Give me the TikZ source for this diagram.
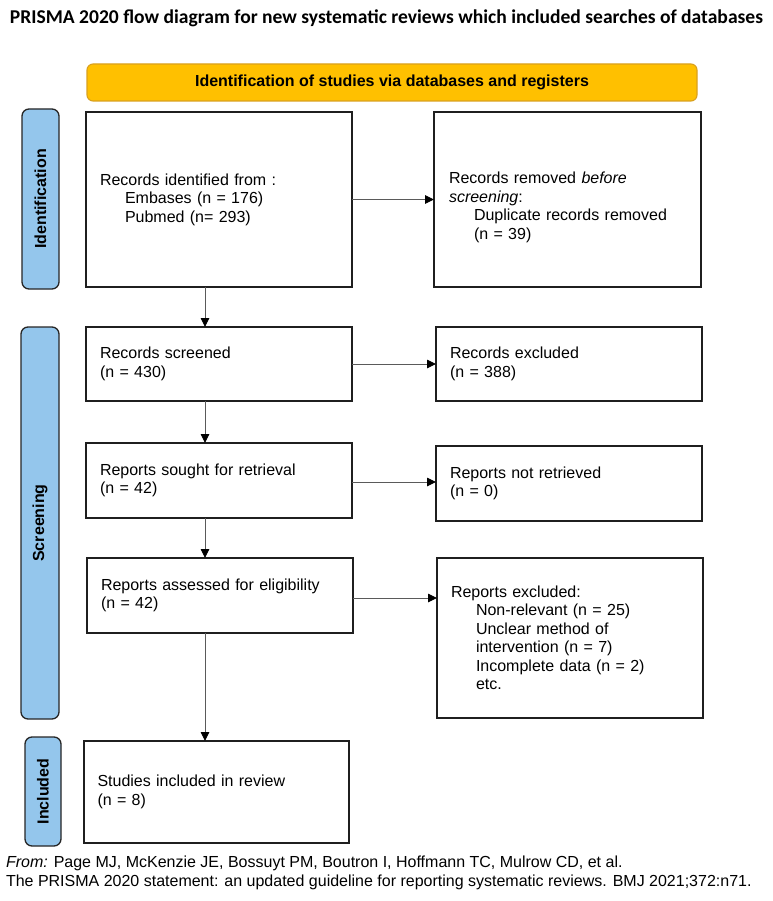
\documentclass[tikz,border=0pt]{standalone}
\usepackage{fontspec}
\usepackage{graphicx}
\setmainfont{Liberation Sans}
\newfontfamily\titlefont{Carlito}
\usetikzlibrary{arrows.meta,positioning}
\definecolor{bannerfill}{HTML}{FFC000}
\definecolor{bannerdraw}{HTML}{D9A01E}
\definecolor{sidefill}{HTML}{94C6EC}
\definecolor{sidedraw}{HTML}{262626}
\definecolor{arrowgray}{HTML}{5A5A5A}
\tikzset{
  every node/.style={inner sep=0pt, outer sep=0pt},
  bodyfont/.style={font=\fontsize{16}{18.5}\selectfont},
  flowbox/.style={draw=black!88, line width=1.3pt, fill=white, bodyfont,
    align=left, inner xsep=14pt, inner ysep=0pt},
  sidelab/.style={draw=sidedraw, line width=1.3pt, fill=sidefill, rounded corners=7pt,
    font=\fontsize{16}{18}\selectfont\bfseries, rotate=90},
  banner/.style={draw=bannerdraw, line width=1.1pt, fill=bannerfill, rounded corners=6pt,
    font=\fontsize{16}{18}\selectfont\bfseries},
  flowarrow/.style={draw=arrowgray, line width=0.9pt,
    arrows={-Triangle[length=9pt,width=8.5pt,black]}}
}
\begin{document}
\begin{tikzpicture}[x=1pt,y=-1pt]
\useasboundingbox (0,0) rectangle (772,901);
\fill[white] (0,0) rectangle (772,901);

% title
\node[anchor=base] (title) at (386.5,24)
  {\resizebox{753pt}{!}{\titlefont\bfseries PRISMA 2020 flow diagram for new systematic reviews which included searches of databases}};

% banner
\node[banner, minimum width=610pt, minimum height=37pt] (banner) at (392,82.5)
  {Identification of studies via databases and registers};

% side labels
\node[sidelab, minimum width=180pt, minimum height=37pt] (lid) at (40.5,199) {Identification};
\node[sidelab, minimum width=392pt, minimum height=38pt] (lscr) at (40,523) {Screening};
\node[sidelab, minimum width=109pt, minimum height=36pt] (linc) at (43,791.5) {Included};

% boxes
\node[flowbox, text width=238pt, minimum height=175pt] (b1) at (219,199.5)
  {Records identified from :\\
   \hspace*{25pt}Embases (n = 176)\\
   \hspace*{25pt}Pubmed (n= 293)};
\node[flowbox, text width=239pt, minimum height=175pt] (b2) at (567.5,199.5) {};
\node[bodyfont, align=left, text width=239pt, anchor=west] (b2t) at ([xshift=15pt,yshift=-8pt]b2.west)
  {Records removed \textit{before}\\
   \textit{screening}:\\
   \hspace*{25pt}Duplicate records removed\\
   \hspace*{25pt}(n = 39)};

\node[flowbox, text width=238pt, minimum height=74pt] (b3) at (219,364)
  {Records screened\\(n = 430)};
\node[flowbox, text width=238pt, minimum height=74pt] (b4) at (569,364)
  {Records excluded\\(n = 388)};

\node[flowbox, text width=238pt, minimum height=75pt] (b5) at (219,480.5)
  {Reports sought for retrieval\\(n = 42)};
\node[flowbox, text width=238pt, minimum height=75pt] (b6) at (569,483.5)
  {Reports not retrieved\\(n = 0)};

\node[flowbox, text width=238pt, minimum height=75pt] (b7) at (220,595.5)
  {Reports assessed for eligibility\\(n = 42)};
\node[flowbox, text width=238pt, minimum height=160pt] (b8) at (570,638)
  {Reports excluded:\\
   \hspace*{25pt}Non-relevant (n = 25)\\
   \hspace*{25pt}Unclear method of\\
   \hspace*{25pt}intervention (n = 7)\\
   \hspace*{25pt}Incomplete data (n = 2)\\
   \hspace*{25pt}etc.};

\node[flowbox, text width=238pt, inner xsep=13.5pt, minimum height=102pt] (b9) at (216.5,792)
  {Studies included in review\\(n = 8)};

% connectors
\coordinate (vx) at (205,0);
\draw[flowarrow] (b1.east) -- (b1.east -| b2.west);
\draw[flowarrow] (b3.east) -- (b3.east -| b4.west);
\draw[flowarrow] ([yshift=-1.5pt]b5.east) -- ([yshift=-1.5pt]b5.east -| b6.west);
\draw[flowarrow] ([yshift=-2.5pt]b7.east) -- ([yshift=-2.5pt]b7.east -| b8.west);
\draw[flowarrow] (b1.south -| vx) -- (b3.north -| vx);
\draw[flowarrow] (b3.south -| vx) -- (b5.north -| vx);
\draw[flowarrow] (b5.south -| vx) -- (b7.north -| vx);
\draw[flowarrow] (b7.south -| vx) -- (b9.north -| vx);

% footer
\node[anchor=north west, align=left, font=\fontsize{16}{19}\selectfont] (foot) at (6,856.3)
  {\textit{From:}\hspace{6pt}Page MJ, McKenzie JE, Bossuyt PM, Boutron I, Hoffmann TC, Mulrow CD, et al.\\
   The PRISMA 2020 statement: an updated guideline for reporting systematic reviews. BMJ 2021;372:n71.};
\end{tikzpicture}
\end{document}
